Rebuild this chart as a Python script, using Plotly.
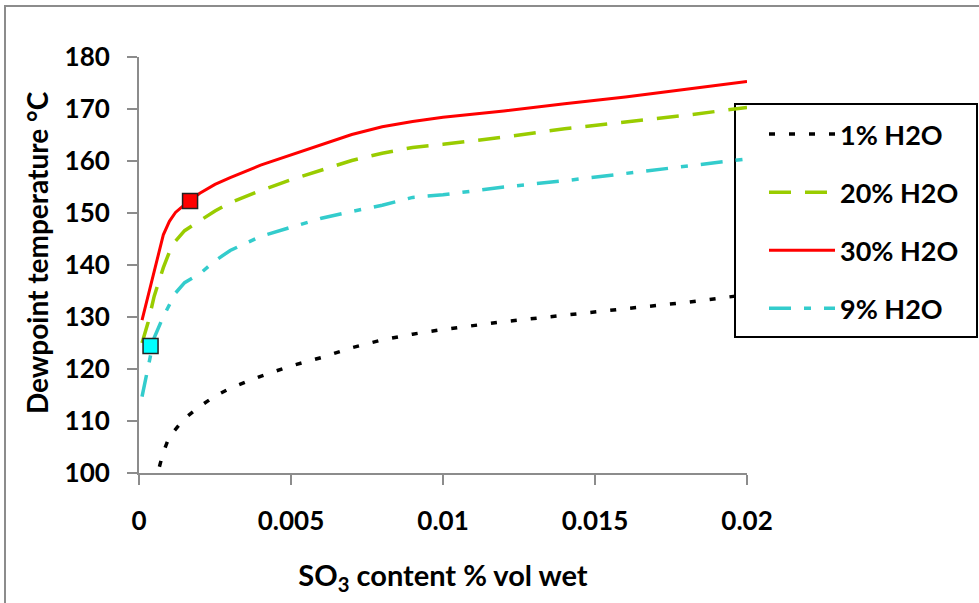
import plotly.graph_objects as go

x_so3 = [0.0001, 0.0003, 0.0005, 0.0008, 0.001, 0.0012, 0.0015, 0.002, 0.0025, 0.003, 0.004,
         0.005, 0.006, 0.007, 0.008, 0.009, 0.01, 0.012, 0.014, 0.016, 0.018, 0.02]

h2o_30 = [129.4, 134.0, 139.0, 145.8, 148.4, 150.1, 151.6, 153.8, 155.5, 156.8, 159.2,
          161.2, 163.2, 165.1, 166.6, 167.6, 168.4, 169.6, 171.0, 172.3, 173.8, 175.3]
h2o_20 = [125.0, 129.0, 134.0, 139.5, 142.5, 144.6, 146.6, 148.6, 150.4, 152.0, 154.3,
          156.4, 158.3, 160.1, 161.5, 162.6, 163.2, 164.6, 166.2, 167.5, 168.8, 170.3]
h2o_9 = [114.7, 120.5, 126.0, 130.1, 132.5, 134.6, 136.6, 138.3, 140.8, 142.8, 145.5,
         147.2, 149.0, 150.3, 151.5, 153.0, 153.5, 155.0, 156.2, 157.6, 159.0, 160.4]
x_so3_1 = [0.0005, 0.0008, 0.001, 0.0015, 0.002, 0.0025, 0.003, 0.004, 0.005, 0.006,
           0.007, 0.008, 0.009, 0.01, 0.012, 0.014, 0.016, 0.018, 0.02]
h2o_1 = [97.5, 104.0, 107.0, 110.5, 112.8, 114.8, 116.3, 118.6, 120.6, 122.2,
         124.1, 125.6, 126.7, 127.6, 129.1, 130.4, 131.6, 132.8, 134.3]

marker_red = ([0.00168], [152.3])
marker_cyan = ([0.00038], [124.4])

x_ticks = [0, 0.005, 0.01, 0.015, 0.02]
x_tick_text = ["0", "0.005", "0.01", "0.015", "0.02"]
y_ticks = [100, 110, 120, 130, 140, 150, 160, 170, 180]

FONT = "Lato"
fig = go.Figure()
fig.add_trace(go.Scatter(x=x_so3_1, y=h2o_1, mode="lines", name="1% H2O", legendgroup="a",
                         line=dict(color="black", width=3.5, dash="6px,14px")))
fig.add_trace(go.Scatter(x=x_so3, y=h2o_20, mode="lines", name="20% H2O", legendgroup="b",
                         line=dict(color="#99cc00", width=3.5, dash="22px,14px")))
fig.add_trace(go.Scatter(x=x_so3, y=h2o_30, mode="lines", name="30% H2O", legendgroup="c",
                         line=dict(color="#ff0000", width=3)))
fig.add_trace(go.Scatter(x=x_so3, y=h2o_9, mode="lines", name="9% H2O", legendgroup="d",
                         line=dict(color="#33cccc", width=3.5, dash="22px,13px,7px,13px")))
fig.add_trace(go.Scatter(x=marker_red[0], y=marker_red[1], mode="markers", showlegend=False,
                         marker=dict(symbol="square", size=15, color="#ff0000",
                                     line=dict(color="#222", width=1.5))))
fig.add_trace(go.Scatter(x=marker_cyan[0], y=marker_cyan[1], mode="markers", showlegend=False,
                         marker=dict(symbol="square", size=15, color="#00ffff",
                                     line=dict(color="#222", width=1.5))))

W, H = 979, 603
L, R, T, B = 139, 747, 57, 473
pw, ph = R - L, B - T

def px(xp):
    return (xp - L) / pw

def py(yp):
    return (B - yp) / ph

fig.update_layout(
    width=W, height=H,
    margin=dict(l=L, r=W - R, t=T, b=H - B, pad=0),
    paper_bgcolor="white", plot_bgcolor="white",
    font=dict(family=FONT, size=20, color="black"),
    showlegend=True,
    legend=dict(x=px(764), y=py(110), xanchor="left", yanchor="top",
                bgcolor="rgba(0,0,0,0)", bordercolor="rgba(0,0,0,0)", borderwidth=0,
                traceorder="grouped", tracegroupgap=20, itemwidth=66,
                font=dict(family=FONT, size=27, color="black", weight="bold")),
    xaxis=dict(range=[0, 0.02], tickvals=x_ticks, ticktext=x_tick_text,
               showgrid=False, zeroline=False, showline=True, linecolor="#8c8c8c", linewidth=2,
               ticks="outside", ticklen=10, tickcolor="#8c8c8c", tickwidth=2,
               tickfont=dict(family=FONT, size=26, color="black", weight="bold"),
               ticklabelstandoff=14,
               title=dict(text="SO<sub>3</sub> content % vol wet", standoff=30,
                          font=dict(family=FONT, size=29, color="black", weight="bold"))),
    yaxis=dict(range=[100, 180], tickvals=y_ticks,
               showgrid=False, zeroline=False, showline=True, linecolor="#8c8c8c", linewidth=2,
               ticks="outside", ticklen=10, tickcolor="#8c8c8c", tickwidth=2,
               tickfont=dict(family=FONT, size=26, color="black", weight="bold"),
               ticklabelstandoff=12),
    annotations=[dict(text="Dewpoint temperature °C", textangle=-90, xref="paper", yref="paper",
                      x=px(37), y=py(253), xanchor="center", yanchor="middle", showarrow=False,
                      font=dict(family=FONT, size=28, color="black", weight="bold"))],
    shapes=[
        dict(type="rect", xref="paper", yref="paper", x0=px(5), y0=py(6), x1=px(990), y1=py(620),
             line=dict(color="#8c8c8c", width=2), layer="below"),
        dict(type="rect", xref="paper", yref="paper", x0=px(735), y0=py(104), x1=px(977), y1=py(337),
             line=dict(color="black", width=2), fillcolor="white", layer="below"),
    ],
)

fig.write_html("out.html")
